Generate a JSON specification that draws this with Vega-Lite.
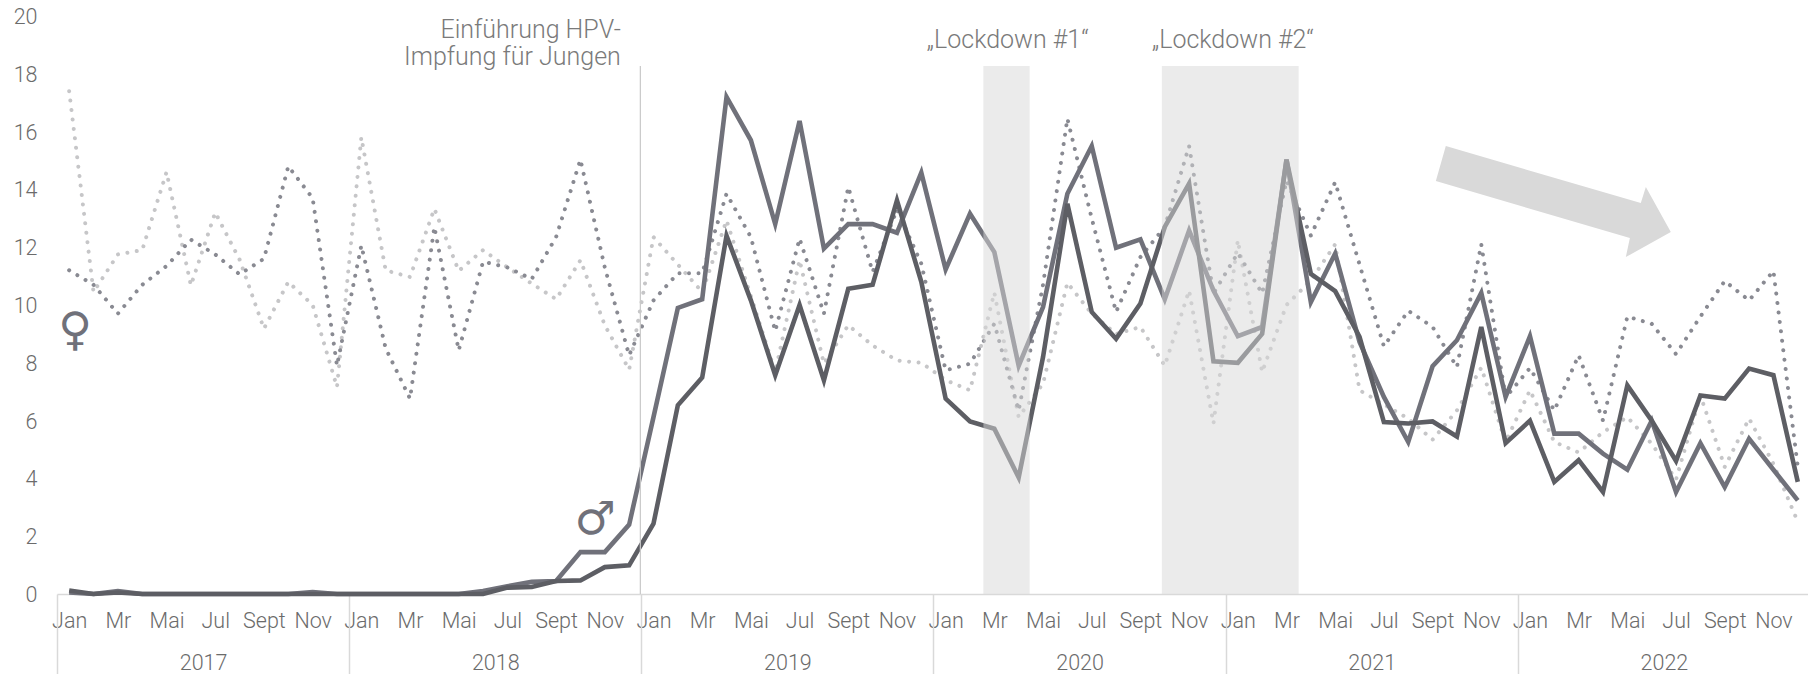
{"$schema":"https://vega.github.io/schema/vega-lite/v6.json","width":1751,"height":578,"autosize":{"type":"none"},"padding":{"left":57,"top":16,"right":0,"bottom":80},"background":"white","config":{"view":{"stroke":null},"font":"Roboto","text":{"font":"Roboto"}},
"data":{"values":[
{"m":0,"fa":11.2,"fb":17.4,"ma":0.05,"mb":0.12},{"m":1,"fa":10.7,"fb":10.45,"ma":0,"mb":0},{"m":2,"fa":9.7,"fb":11.75,"ma":0.1,"mb":0.05},{"m":3,"fa":10.7,"fb":11.9,"ma":0,"mb":0},{"m":4,"fa":11.35,"fb":14.6,"ma":0,"mb":0},{"m":5,"fa":12.26,"fb":10.68,"ma":0,"mb":0},{"m":6,"fa":11.75,"fb":13.2,"ma":0,"mb":0},{"m":7,"fa":11.06,"fb":11.57,"ma":0,"mb":0},{"m":8,"fa":11.6,"fb":9.18,"ma":0,"mb":0},{"m":9,"fa":14.8,"fb":10.8,"ma":0,"mb":0},{"m":10,"fa":13.7,"fb":10.0,"ma":0.07,"mb":0},{"m":11,"fa":7.9,"fb":7.16,"ma":0,"mb":0},
{"m":12,"fa":12.06,"fb":15.8,"ma":0,"mb":0},{"m":13,"fa":8.5,"fb":11.2,"ma":0,"mb":0},{"m":14,"fa":6.76,"fb":10.97,"ma":0,"mb":0},{"m":15,"fa":12.7,"fb":13.33,"ma":0,"mb":0},{"m":16,"fa":8.43,"fb":11.18,"ma":0,"mb":0},{"m":17,"fa":11.5,"fb":11.9,"ma":0.1,"mb":0},{"m":18,"fa":11.3,"fb":11.3,"ma":0.27,"mb":0.22},{"m":19,"fa":10.9,"fb":10.74,"ma":0.42,"mb":0.24},{"m":20,"fa":12.35,"fb":10.2,"ma":0.45,"mb":0.45},{"m":21,"fa":15.03,"fb":11.55,"ma":1.45,"mb":0.47},{"m":22,"fa":11.3,"fb":9.3,"ma":1.45,"mb":0.93},{"m":23,"fa":8.26,"fb":7.76,"ma":2.4,"mb":0.99},
{"m":24,"fa":10.16,"fb":12.35,"ma":6.12,"mb":2.43},{"m":25,"fa":11.1,"fb":11.4,"ma":9.9,"mb":6.53},{"m":26,"fa":11.1,"fb":10.45,"ma":10.2,"mb":7.49},{"m":27,"fa":13.85,"fb":12.93,"ma":17.2,"mb":12.4},{"m":28,"fa":12.35,"fb":10.3,"ma":15.7,"mb":10.16},{"m":29,"fa":9.1,"fb":7.68,"ma":12.8,"mb":7.57},{"m":30,"fa":12.3,"fb":11.55,"ma":16.37,"mb":10.0},{"m":31,"fa":9.7,"fb":7.97,"ma":11.95,"mb":7.39},{"m":32,"fa":14.08,"fb":9.3,"ma":12.8,"mb":10.56},{"m":33,"fa":11.14,"fb":8.6,"ma":12.8,"mb":10.7},{"m":34,"fa":13.3,"fb":8.08,"ma":12.5,"mb":13.62},{"m":35,"fa":11.43,"fb":8.0,"ma":14.58,"mb":10.8},
{"m":36,"fa":7.74,"fb":7.4,"ma":11.23,"mb":6.76},{"m":37,"fa":7.97,"fb":7.05,"ma":13.16,"mb":5.97},{"m":38,"fa":9.35,"fb":10.43,"ma":11.83,"mb":5.72},{"m":39,"fa":6.35,"fb":6.12,"ma":7.9,"mb":4.03},{"m":40,"fa":10.7,"fb":7.28,"ma":9.93,"mb":8.2},{"m":41,"fa":16.45,"fb":10.77,"ma":13.85,"mb":13.5},{"m":42,"fa":13.0,"fb":9.7,"ma":15.5,"mb":9.76},{"m":43,"fa":9.76,"fb":9.0,"ma":11.98,"mb":8.83},{"m":44,"fa":11.66,"fb":9.24,"ma":12.27,"mb":10.05},{"m":45,"fa":12.7,"fb":7.9,"ma":10.2,"mb":12.7},{"m":46,"fa":15.5,"fb":10.5,"ma":12.58,"mb":14.2},{"m":47,"fa":10.4,"fb":5.9,"ma":10.5,"mb":8.05},
{"m":48,"fa":11.8,"fb":12.24,"ma":8.92,"mb":8.0},{"m":49,"fa":10.4,"fb":7.68,"ma":9.24,"mb":9.0},{"m":50,"fa":14.3,"fb":10.0,"ma":15.03,"mb":15.03},{"m":51,"fa":12.4,"fb":10.85,"ma":10.1,"mb":11.08},{"m":52,"fa":14.25,"fb":12.1,"ma":11.78,"mb":10.48},{"m":53,"fa":11.4,"fb":7.05,"ma":8.72,"mb":8.9},{"m":54,"fa":8.57,"fb":6.56,"ma":6.82,"mb":5.95},{"m":55,"fa":9.8,"fb":6.07,"ma":5.26,"mb":5.9},{"m":56,"fa":9.24,"fb":5.34,"ma":7.88,"mb":5.97},{"m":57,"fa":7.85,"fb":6.35,"ma":8.78,"mb":5.45},{"m":58,"fa":12.1,"fb":7.83,"ma":10.42,"mb":9.24},{"m":59,"fa":6.8,"fb":5.26,"ma":6.82,"mb":5.22},
{"m":60,"fa":7.82,"fb":7.05,"ma":8.92,"mb":6.0},{"m":61,"fa":6.35,"fb":5.26,"ma":5.55,"mb":3.88},{"m":62,"fa":8.26,"fb":4.9,"ma":5.55,"mb":4.63},{"m":63,"fa":6.0,"fb":5.6,"ma":4.86,"mb":3.53},{"m":64,"fa":9.6,"fb":6.12,"ma":4.3,"mb":7.22},{"m":65,"fa":9.35,"fb":5.2,"ma":6.0,"mb":6.0},{"m":66,"fa":8.3,"fb":3.96,"ma":3.53,"mb":4.6},{"m":67,"fa":9.6,"fb":6.87,"ma":5.22,"mb":6.87},{"m":68,"fa":10.83,"fb":4.4,"ma":3.7,"mb":6.76},{"m":69,"fa":10.16,"fb":6.07,"ma":5.37,"mb":7.8},{"m":70,"fa":11.18,"fb":4.5,"ma":4.3,"mb":7.57},{"m":71,"fa":4.4,"fb":2.5,"ma":3.24,"mb":3.88}
]},
"layer":[
{"mark":{"type":"line","stroke":"#c6c6c8","strokeWidth":4,"strokeCap":"round","strokeDash":[0.01,9.5],"interpolate":"linear"},
"encoding":{"x":{"field":"m","type":"quantitative","scale":{"domain":[-0.5,71.42],"nice":false,"zero":false},"axis":{"orient":"bottom","values":[0,2,4,6,8,10,12,14,16,18,20,22,24,26,28,30,32,34,36,38,40,42,44,46,48,50,52,54,56,58,60,62,64,66,68,70],"labelExpr":"['Jan','Mr','Mai','Jul','Sept','Nov'][(datum.value%12)/2]","title":null,"grid":false,"ticks":false,"domain":true,"domainColor":"#d9d9d9","domainWidth":1.5,"labelFont":"Roboto","labelFontWeight":300,"labelFontSize":21.5,"labelColor":"#6b6b6b","labelPadding":27,"labelBaseline":"middle","labelFlush":false,"labelOverlap":false}},
"y":{"field":"fb","type":"quantitative","scale":{"domain":[0,20],"nice":false},"axis":null}}},
{"mark":{"type":"line","stroke":"#898a92","strokeWidth":4,"strokeCap":"round","strokeDash":[0.01,9.5]},"encoding":{"x":{"field":"m","type":"quantitative","axis":null},"y":{"field":"fa","type":"quantitative","axis":null}}},
{"mark":{"type":"line","stroke":"#70717a","strokeWidth":4.6,"strokeJoin":"miter"},"encoding":{"x":{"field":"m","type":"quantitative","axis":null},"y":{"field":"ma","type":"quantitative","axis":null}}},
{"mark":{"type":"line","stroke":"#5d5e64","strokeWidth":4.6,"strokeJoin":"miter"},"encoding":{"x":{"field":"m","type":"quantitative","axis":null},"y":{"field":"mb","type":"quantitative","axis":null}}},
{"data":{"values":[{"start":37.55,"end":39.45,"low":0,"high":18.27},{"start":44.88,"end":50.5,"low":0,"high":18.27}]},
"mark":{"type":"rect","color":"#d7d7d7","opacity":0.5},"encoding":{"x":{"field":"start","type":"quantitative","axis":null},"x2":{"field":"end"},"y":{"field":"low","type":"quantitative","axis":null},"y2":{"field":"high"}}},
{"data":{"values":[{"at":23.46,"low":0,"high":18.27}]},"mark":{"type":"rule","color":"#c8c8c8","strokeWidth":1.2},"encoding":{"x":{"field":"at","type":"quantitative","axis":null},"y":{"field":"low","type":"quantitative","axis":null},"y2":{"field":"high"}}},
{"data":{"values":[{"x":60.94,"y":13.7}]},"mark":{"type":"point","filled":true,"opacity":1,"color":"#d9d9d9","size":57600,"shape":"M-.892,-.433L.733,.042L.775,-.092L.983,.283L.608,.492L.642,.333L-.975,-.142Z"},"encoding":{"x":{"field":"x","type":"quantitative","axis":null},"y":{"field":"y","type":"quantitative","axis":null}}},
{"data":{"values":[{"x":22.66,"y":19.5,"t":"Einführung HPV-"},{"x":22.66,"y":18.57,"t":"Impfung für Jungen"}]},"mark":{"type":"text","align":"right","baseline":"middle","font":"Roboto","fontWeight":300,"fontSize":25,"color":"#7a7a7a"},"encoding":{"x":{"field":"x","type":"quantitative","axis":null},"y":{"field":"y","type":"quantitative","axis":null},"text":{"field":"t"}}},
{"data":{"values":[{"x":38.55,"y":19.18,"t":"„Lockdown #1“"},{"x":47.8,"y":19.18,"t":"„Lockdown #2“"}]},"mark":{"type":"text","align":"center","baseline":"middle","font":"Roboto","fontWeight":300,"fontSize":25,"color":"#7a7a7a"},"encoding":{"x":{"field":"x","type":"quantitative","axis":null},"y":{"field":"y","type":"quantitative","axis":null},"text":{"field":"t"}}},
{"data":{"values":[{"x":0.24,"y":9.1,"t":"♀"},{"x":21.6,"y":2.56,"t":"♂"}]},"mark":{"type":"text","align":"center","baseline":"middle","font":"DejaVu Sans","fontSize":46,"color":"#70717a"},"encoding":{"x":{"field":"x","type":"quantitative","axis":null},"y":{"field":"y","type":"quantitative","axis":null},"text":{"field":"t"}}},
{"data":{"values":[{"x":5.5}]},"mark":{"type":"rule","opacity":0},"encoding":{"x":{"field":"x","type":"quantitative","axis":{"orient":"bottom","values":[5.5,17.5,29.5,41.5,53.5,65.5],"labelExpr":"2017+floor(datum.value/12)","title":null,"grid":false,"ticks":false,"domain":false,"labelFont":"Roboto","labelFontWeight":300,"labelFontSize":21.5,"labelColor":"#6b6b6b","labelPadding":69,"labelBaseline":"middle","labelOverlap":false}}}},
{"data":{"values":[{"x":-0.5}]},"mark":{"type":"rule","opacity":0},"encoding":{"x":{"field":"x","type":"quantitative","axis":{"orient":"bottom","values":[-0.5,11.5,23.5,35.5,47.5,59.5],"labels":false,"title":null,"grid":false,"ticks":true,"tickSize":80,"tickColor":"#d9d9d9","tickWidth":1.5,"domain":false}}}},
{"data":{"values":[{"y":0}]},"mark":{"type":"rule","opacity":0},"encoding":{"y":{"field":"y","type":"quantitative","axis":{"orient":"left","values":[0,2,4,6,8,10,12,14,16,18,20],"title":null,"grid":false,"ticks":false,"domain":false,"labelFont":"Roboto","labelFontWeight":300,"labelFontSize":21.5,"labelColor":"#6b6b6b","labelPadding":20,"labelOffset":1.5,"labelBaseline":"middle"}}}}
],
"resolve":{"axis":{"x":"independent","y":"independent"}}}
